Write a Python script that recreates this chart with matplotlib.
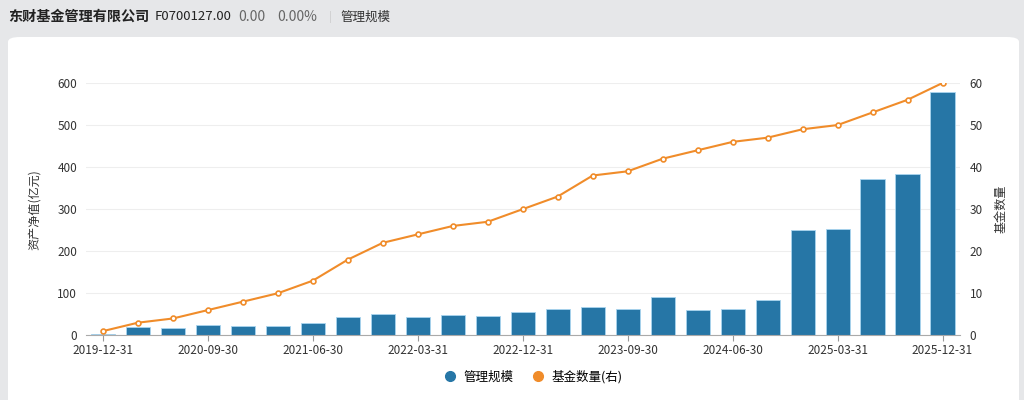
import matplotlib
matplotlib.use('Agg')
from matplotlib import pyplot as plt
from matplotlib.patches import FancyBboxPatch
from matplotlib.lines import Line2D

plt.rcParams['font.family'] = ['Noto Sans CJK SC', 'DejaVu Sans']

# quarterly report dates
dates = ['2019-12-31', '2020-03-31', '2020-06-30', '2020-09-30', '2020-12-31',
         '2021-03-31', '2021-06-30', '2021-09-30', '2021-12-31', '2022-03-31',
         '2022-06-30', '2022-09-30', '2022-12-31', '2023-03-31', '2023-06-30',
         '2023-09-30', '2023-12-31', '2024-03-31', '2024-06-30', '2024-09-30',
         '2024-12-31', '2025-03-31', '2025-06-30', '2025-09-30', '2025-12-31']

# 管理规模 (亿元)
aum = [4, 20, 18, 25, 23, 23, 28.5, 44, 51, 44, 49, 46, 56,
       62, 66.5, 63.5, 92, 61, 62, 85, 250.5, 252, 372, 383, 578]

# 基金数量
fund_count = [1, 3, 4, 6, 8, 10, 13, 18, 22, 24, 26, 27, 30,
              33, 38, 39, 42, 44, 46, 47, 49, 50, 53, 56, 60]

bar_color = '#2676a6'
line_color = '#f08c2a'

fig = plt.figure(figsize=(10.24, 4), dpi=100)
fig.patch.set_facecolor('#e6e7e9')

# white card behind the chart
card = FancyBboxPatch((8 / 1024, -0.05), (1011 / 1024), (400 - 37 + 20) / 400,
                      boxstyle='round,pad=0,rounding_size=0.012',
                      transform=fig.transFigure, facecolor='white',
                      edgecolor='none', zorder=-5)
fig.patches.append(card)

# header
hy = 1 - 17 / 400
fig.text(8 / 1024, hy, '东财基金管理有限公司', fontsize=10.2,
         fontweight='bold', va='center', color='#222222')
fig.text(155 / 1024, hy, 'F0700127.00', fontsize=9.5, va='center', color='#222222')
fig.text(238 / 1024, hy, '0.00', fontsize=10, va='center', color='#666666')
fig.text(277 / 1024, hy, '0.00%', fontsize=10, va='center', color='#666666')
fig.text(329 / 1024, hy, '|', fontsize=8, va='center', color='#cccccc')
fig.text(340 / 1024, hy, '管理规模', fontsize=9, va='center', color='#333333')

ax = fig.add_axes([85.5 / 1024, 64.7 / 400, 874.5 / 1024, 252.3 / 400])
ax.set_facecolor('none')
x = list(range(len(dates)))

ax.bar(x, aum, width=0.69, color=bar_color, edgecolor='#a9d5ef',
       linewidth=0.6, zorder=2)
ax.set_xlim(-0.5, len(dates) - 0.5)
ax.set_ylim(0, 600)
ax.set_yticks(range(0, 601, 100))
ax.grid(axis='y', color='#eeeeee', linewidth=0.8, zorder=0)
ax.set_axisbelow(True)

ax.set_xticks(x[::3])
ax.set_xticklabels(dates[::3])
ax.tick_params(axis='x', length=4, color='#999999', labelsize=8.5,
               labelcolor='#333333', pad=2)
ax.tick_params(axis='y', length=0, labelsize=8.5, labelcolor='#333333', pad=6)
for s in ['top', 'right', 'left']:
    ax.spines[s].set_visible(False)
ax.spines['bottom'].set_color('#aaaaaa')
ax.set_ylabel('资产净值(亿元)', fontsize=8.7, color='#333333')
ax.yaxis.set_label_coords(-0.051, 0.5)

ax2 = ax.twinx()
ax2.plot(x, fund_count, color=line_color, linewidth=1.5, marker='o',
         markersize=3.5, markerfacecolor='white', markeredgecolor=line_color,
         markeredgewidth=1.2, zorder=3)
ax2.set_ylim(0, 60)
ax2.set_yticks(range(0, 61, 10))
ax2.tick_params(axis='y', length=0, labelsize=8.5, labelcolor='#333333', pad=7)
for s in ax2.spines.values():
    s.set_visible(False)
ax2.set_ylabel('基金数量', fontsize=8.7, color='#333333', rotation=90)
ax2.yaxis.set_label_coords(1.0400, 0.5)

handles = [Line2D([], [], marker='o', linestyle='none', markersize=7,
                  color=bar_color),
           Line2D([], [], marker='o', linestyle='none', markersize=7,
                  color=line_color)]
fig.legend(handles, ['管理规模', '基金数量(右)'], loc='center',
           bbox_to_anchor=(530 / 1024, 1 - 377 / 400), ncol=2, frameon=False,
           fontsize=9, handletextpad=0.1, columnspacing=1.0)

fig.savefig('out.png', dpi=100)
